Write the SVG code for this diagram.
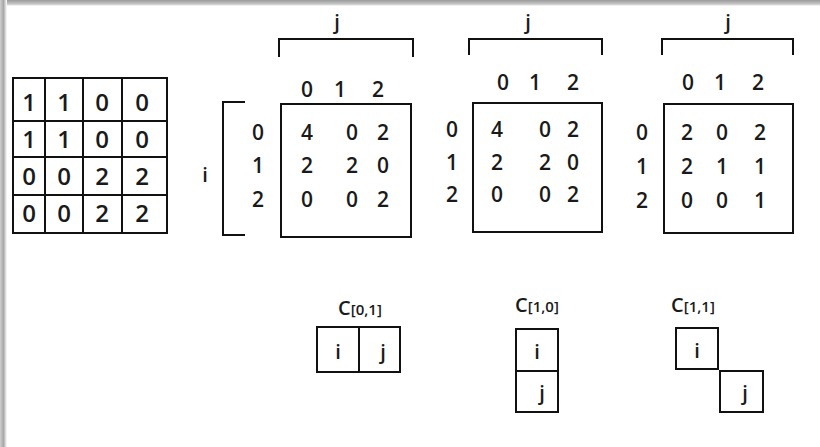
<svg xmlns="http://www.w3.org/2000/svg" width="820" height="447" viewBox="0 0 820 447">
  <defs>
    <linearGradient id="edgeTop" x1="0" y1="0" x2="0" y2="1">
      <stop offset="0" stop-color="#9a9a9a"/>
      <stop offset="0.7" stop-color="#c8c8c8"/>
      <stop offset="1" stop-color="#ffffff"/>
    </linearGradient>
    <linearGradient id="edgeLeft" x1="0" y1="0" x2="1" y2="0">
      <stop offset="0" stop-color="#d0d0d0"/>
      <stop offset="0.5" stop-color="#a8a8a8"/>
      <stop offset="1" stop-color="#ffffff"/>
    </linearGradient>
    <style>
      .ln { fill: none; stroke: #111; stroke-width: 2; }
      .cell { fill: #fff; stroke: #111; stroke-width: 2; }
      text { font-family: "Open Sans", Lato, sans-serif; font-weight: 600; fill: #1a1a1a; text-anchor: middle; }
      .num { font-size: 21px; }
      .big { font-size: 24px; }
      .lbl { font-size: 20px; }
      .sub { font-size: 15px; }
    </style>
  </defs>

  <!-- page background with soft frame on top and left -->
  <rect x="0" y="0" width="820" height="447" fill="#fff"/>
  <rect x="0" y="0" width="820" height="6" fill="url(#edgeTop)"/>
  <rect x="0" y="0" width="7" height="447" fill="url(#edgeLeft)"/>

  <!-- input 4x4 image -->
  <g id="input-grid">
    <rect class="ln" x="13" y="78" width="154" height="155"/>
    <path class="ln" d="M45 78V233M83 78V233M122 78V233M13 121H167M13 157H167M13 195H167"/>
    <text class="big" x="29" y="111">1</text><text class="big" x="64" y="111">1</text><text class="big" x="102" y="111">0</text><text class="big" x="142" y="111">0</text>
    <text class="big" x="29" y="148">1</text><text class="big" x="64" y="148">1</text><text class="big" x="102" y="148">0</text><text class="big" x="142" y="148">0</text>
    <text class="big" x="29" y="185">0</text><text class="big" x="64" y="185">0</text><text class="big" x="102" y="185">2</text><text class="big" x="142" y="185">2</text>
    <text class="big" x="29" y="222">0</text><text class="big" x="64" y="222">0</text><text class="big" x="102" y="222">2</text><text class="big" x="142" y="222">2</text>
  </g>

  <!-- axis brackets -->
  <g id="brackets">
    <path class="ln" d="M245 102H223V235H245"/>
    <text class="lbl" x="205" y="182">i</text>
    <path class="ln" d="M279 57V39H413V57"/>
    <text class="lbl" x="337" y="29">j</text>
    <path class="ln" d="M469 55V39H602V55"/>
    <text class="lbl" x="528" y="29">j</text>
    <path class="ln" d="M662 55V39H793V55"/>
    <text class="lbl" x="728" y="29">j</text>
  </g>

  <!-- co-occurrence matrix for C[0,1] -->
  <g id="matrix-01">
    <rect class="ln" x="281" y="104" width="130" height="133"/>
    <text class="num" x="307" y="97">0</text><text class="num" x="340" y="97">1</text><text class="num" x="378" y="97">2</text>
    <text class="num" x="258" y="140">0</text><text class="num" x="258" y="173">1</text><text class="num" x="258" y="207">2</text>
    <text class="num" x="307" y="140">4</text><text class="num" x="352" y="140">0</text><text class="num" x="383" y="140">2</text>
    <text class="num" x="307" y="173">2</text><text class="num" x="352" y="173">2</text><text class="num" x="383" y="173">0</text>
    <text class="num" x="307" y="207">0</text><text class="num" x="352" y="207">0</text><text class="num" x="383" y="207">2</text>
  </g>

  <!-- co-occurrence matrix for C[1,0] -->
  <g id="matrix-10">
    <rect class="ln" x="473" y="103" width="129" height="129"/>
    <text class="num" x="503" y="90">0</text><text class="num" x="535" y="90">1</text><text class="num" x="573" y="90">2</text>
    <text class="num" x="452" y="137">0</text><text class="num" x="452" y="170">1</text><text class="num" x="452" y="202">2</text>
    <text class="num" x="497" y="137">4</text><text class="num" x="545" y="137">0</text><text class="num" x="573" y="137">2</text>
    <text class="num" x="497" y="170">2</text><text class="num" x="545" y="170">2</text><text class="num" x="573" y="170">0</text>
    <text class="num" x="497" y="202">0</text><text class="num" x="545" y="202">0</text><text class="num" x="573" y="202">2</text>
  </g>

  <!-- co-occurrence matrix for C[1,1] -->
  <g id="matrix-11">
    <rect class="ln" x="664" y="104" width="129" height="129"/>
    <text class="num" x="688" y="90">0</text><text class="num" x="720" y="90">1</text><text class="num" x="758" y="90">2</text>
    <text class="num" x="642" y="140">0</text><text class="num" x="642" y="174">1</text><text class="num" x="642" y="208">2</text>
    <text class="num" x="687" y="140">2</text><text class="num" x="722" y="140">0</text><text class="num" x="760" y="140">2</text>
    <text class="num" x="687" y="174">2</text><text class="num" x="722" y="174">1</text><text class="num" x="760" y="174">1</text>
    <text class="num" x="687" y="208">0</text><text class="num" x="722" y="208">0</text><text class="num" x="760" y="208">1</text>
  </g>

  <!-- offset stencils -->
  <g id="stencil-01">
    <text class="lbl" x="360" y="315">C<tspan class="sub">[0,1]</tspan></text>
    <rect class="cell" x="317" y="327" width="42" height="45"/>
    <rect class="cell" x="359" y="327" width="41" height="45"/>
    <text class="lbl" x="338" y="359">i</text>
    <text class="lbl" x="383" y="359">j</text>
  </g>
  <g id="stencil-10">
    <text class="lbl" x="537" y="312">C<tspan class="sub">[1,0]</tspan></text>
    <rect class="cell" x="516" y="329" width="42" height="42"/>
    <rect class="cell" x="516" y="371" width="42" height="41"/>
    <text class="lbl" x="537" y="359">i</text>
    <text class="lbl" x="542" y="400">j</text>
  </g>
  <g id="stencil-11">
    <text class="lbl" x="693" y="312">C<tspan class="sub">[1,1]</tspan></text>
    <rect class="cell" x="676" y="328" width="42" height="41"/>
    <rect class="cell" x="720" y="371" width="43" height="41"/>
    <text class="lbl" x="697" y="358">i</text>
    <text class="lbl" x="745" y="400">j</text>
  </g>
</svg>
